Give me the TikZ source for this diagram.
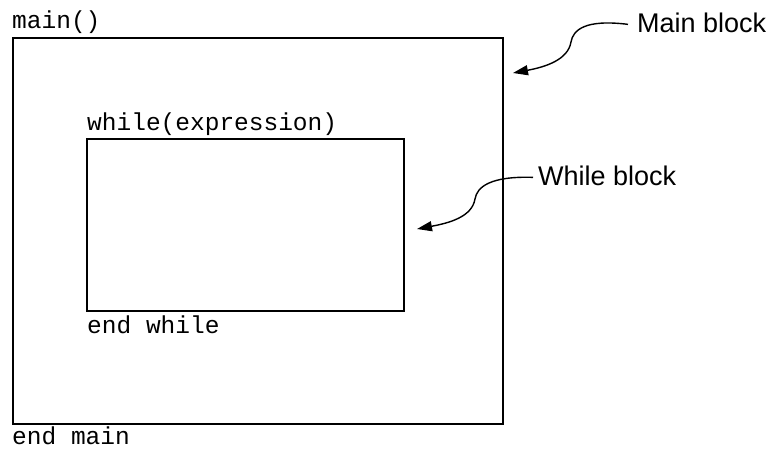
\documentclass[tikz,border=0pt]{standalone}
\usepackage{fontspec}
\setmainfont{Liberation Sans}
\newfontfamily\codefont{Liberation Mono}
\usetikzlibrary{arrows.meta}
\begin{document}
\begin{tikzpicture}[x=1pt,y=-1pt,
  block/.style={draw, line width=2.5pt, inner sep=0pt},
  code/.style={inner sep=0pt, anchor=base west, font=\codefont\fontsize{24.5}{28}\selectfont},
  lbl/.style={inner sep=0pt, anchor=base west, font=\fontsize{27}{30}\selectfont},
  pointer/.style={line width=1.4pt, -{Triangle[length=15pt,width=10pt]}}]
\useasboundingbox (0,0) rectangle (769,448);
\node[block, minimum width=490pt, minimum height=386pt] (mainbox) at (258,231) {};
\node[block, minimum width=317pt, minimum height=172pt] (whilebox) at (245.5,225) {};
\node[code] (maintxt) at (12,28) {main()};
\node[code] (whiletxt) at (87,130) {while(expression)};
\node[code] (endwhile) at (87,333) {end while};
\node[code] (endmain) at (12,444) {end main};
\node[lbl] (mainlbl) at (637,32) {Main block};
\node[lbl] (whilelbl) at (538,185) {While block};
\coordinate (maintip) at (513,73);
\coordinate (whiletip) at (417,229);
\draw[pointer] ([xshift=-9pt,yshift=-2pt]mainlbl.west) .. controls (585,19) and (573,30) .. (571,42) .. controls (568,60) and (545,67) .. (maintip);
\draw[pointer] ([xshift=-5pt,yshift=-2pt]whilelbl.west) .. controls (490,176) and (477,187) .. (475,199) .. controls (472,217) and (449,223) .. (whiletip);
\end{tikzpicture}
\end{document}
